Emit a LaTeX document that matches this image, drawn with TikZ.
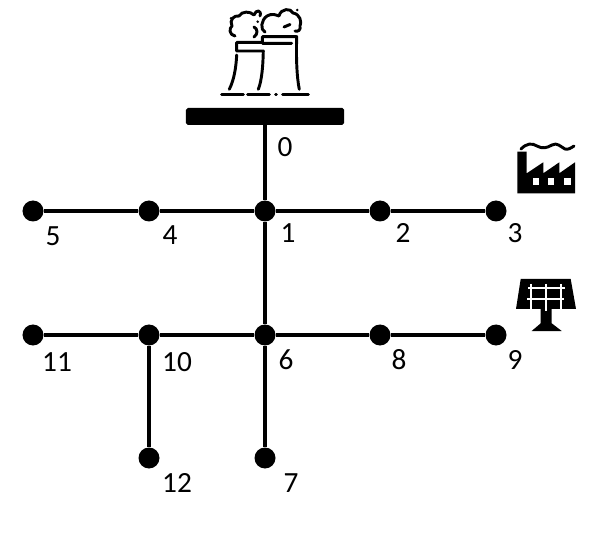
\documentclass[tikz,border=0pt]{standalone}
\usepackage{fontspec}
\setmainfont{Carlito}
\usepackage{tikz}
\usetikzlibrary{positioning}

\begin{document}
\begin{tikzpicture}[
    x=0.03cm, y=-0.03cm,
    font=\fontsize{25}{25}\selectfont,
    busnode/.style={circle, fill=black, inner sep=0pt, minimum size=0.63cm},
    busbar/.style={rectangle, rounded corners=1.5pt, fill=black, inner sep=0pt, minimum width=4.74cm, minimum height=0.51cm},
    numlabel/.style={inner sep=0pt},
    line/.style={line width=3pt},
    icon/.style={line width=2.5pt, line cap=round, line join=round},
    hole/.style={white, line width=1.9pt},
]
\useasboundingbox (0,0) rectangle (608,536);

% Slack bus
\node[busbar] (bar) at (265,116.5) {};

% Upper feeder
\node[busnode] (n5) at (33,211) {};
\node[busnode] (n4) at (149,211) {};
\node[busnode] (n1) at (265,211) {};
\node[busnode] (n2) at (380,211) {};
\node[busnode] (n3) at (496,211) {};

% Lower feeder
\node[busnode] (n11) at (33,335) {};
\node[busnode] (n10) at (149,335) {};
\node[busnode] (n6) at (265,335) {};
\node[busnode] (n8) at (380,335) {};
\node[busnode] (n9) at (496,335) {};
\node[busnode] (n12) at (149,458) {};
\node[busnode] (n7) at (265,458) {};

% Lines
\draw[line] (bar) -- (n1);
\draw[line] (n1) -- (n6);
\draw[line] (n6) -- (n7);
\draw[line] (n5) -- (n4);
\draw[line] (n4) -- (n1);
\draw[line] (n1) -- (n2);
\draw[line] (n2) -- (n3);
\draw[line] (n11) -- (n10);
\draw[line] (n10) -- (n6);
\draw[line] (n6) -- (n8);
\draw[line] (n8) -- (n9);
\draw[line] (n10) -- (n12);

% Numbers
\node[numlabel] (l0) at (285,147) {0};
\node[numlabel] (l1) at (288,233) {1};
\node[numlabel] (l2) at (403,233) {2};
\node[numlabel] (l3) at (515,233) {3};
\node[numlabel] (l4) at (170,235) {4};
\node[numlabel] (l5) at (53,236) {5};
\node[numlabel] (l6) at (286,360) {6};
\node[numlabel] (l7) at (291,483) {7};
\node[numlabel] (l8) at (399,360) {8};
\node[numlabel] (l9) at (515,360) {9};
\node[numlabel] (l10) at (177,362) {10};
\node[numlabel] (l11) at (57,362) {11};
\node[numlabel] (l12) at (177,483) {12};

% Power plant
\draw[icon] (262.3,42.3) -- (236.7,42.3) -- (236.7,51) -- (263.3,51) .. controls (263,65) and (262,80) .. (258.3,89.3);
\draw[icon] (236.7,55) .. controls (236,68) and (234,80) .. (229.3,89.3);
\draw[icon] (291.7,43.3) -- (262.3,43.3) -- (262.3,36.7) -- (296.7,36.7) .. controls (296,60) and (297,78) .. (299.3,89.3);
\draw[icon] (221.7,94.7) -- (243.3,94.7);
\draw[icon] (247.7,94.7) -- (269.3,94.7);
\draw[icon] (275.5,94.7) -- (276.5,94.7);
\draw[icon] (282.7,94.7) -- (308.3,94.7);
\draw[icon] (235,36) .. controls (229,35) and (229,28) .. (232,26) .. controls (229,20) and (234,15) .. (239,16) .. controls (242,11) and (250,11) .. (254,15) .. controls (256,9) and (262,10) .. (260,16);
\draw[icon] (254,27) .. controls (258,29) and (258,34) .. (254,37);
\draw[icon] (265,32) .. controls (260,30) and (261,20) .. (267,16) .. controls (272,13) and (276,15) .. (279,16) .. controls (281,8) and (291,8) .. (293,13) .. controls (300,14) and (302,22) .. (300,26) .. controls (301,30) and (298,32) .. (295,31);
\draw[icon] (284,27) -- (290,24.5);
\fill (231,18.3) circle (1.4);
\fill (257.7,21.7) circle (1.4);
\fill (297.3,10) circle (1.4);

% Factory
\fill (517.3,151.7) -- (526.7,151.7) -- (526.7,173.3) -- (543.3,162.3) -- (543.3,173.3) -- (559.3,162.3) -- (559.3,173.3) -- (575,162.3) -- (575,193.3) -- (517.3,193.3) -- cycle;
\fill[white] (533.3,178.3) rectangle (539.3,185);
\fill[white] (548.3,178.3) rectangle (554.3,185);
\fill[white] (564.3,178.3) rectangle (570.7,185);
\draw[line width=2.5pt, line cap=round] (521,149) .. controls (527,143) and (532,143) .. (537,146) .. controls (542,149) and (547,148) .. (552,145) .. controls (557,142) and (561,147) .. (565,149) .. controls (568,150) and (571,148) .. (574,146);

% Solar panel
\fill (520.7,279) -- (570.7,279) -- (576,309) -- (516,309) -- cycle;
\fill (540.7,309) -- (551.7,309) -- (551.7,323.3) -- (561.7,331) -- (531.7,331) -- (540.7,323.3) -- cycle;
\draw[hole] (528,288.3) -- (565,288.3);
\draw[hole] (527,299) -- (564,299);
\draw[hole] (531,284) -- (531,311);
\draw[hole] (546,284) -- (546,311);
\draw[hole] (561,284) -- (561,311);

\end{tikzpicture}
\end{document}
